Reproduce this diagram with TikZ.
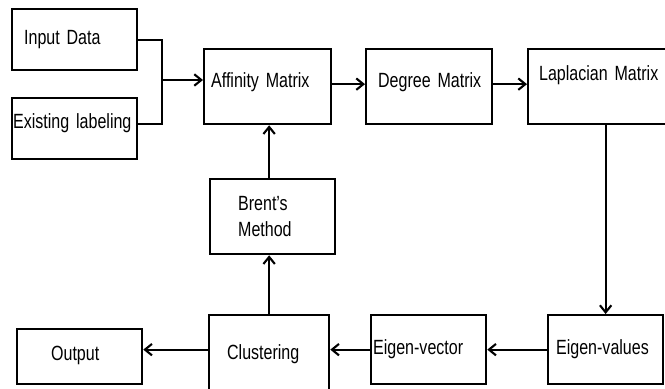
\documentclass[tikz,border=0pt]{standalone}
\usepackage{fontspec}
\setmainfont{Liberation Sans}[FakeStretch=0.78]
\usetikzlibrary{arrows.meta}

\tikzset{
  block/.style={draw,line width=1.3pt,anchor=north west,align=left,inner ysep=0pt},
  lift/.style={text height=0.31cm,text depth=#1},
  lift/.default=0.1cm,
  link/.style={line width=1.2pt}
}

\begin{document}
\begin{tikzpicture}[>={Straight Barb[length=4pt,width=6.5pt]},
    font=\fontsize{11.7pt}{14.7pt}\selectfont]
  \useasboundingbox (0,0) rectangle (13.3,7.76);
  \clip (0,0) rectangle (13.3,7.76);
  % inputs
  \node[block,lift,minimum width=2.5cm,minimum height=1.22cm,
    text width=2.02cm,inner xsep=0.24cm] (input) at (0.22,7.60) {Input Data};
  \node[block,lift=0.32cm,minimum width=2.5cm,minimum height=1.22cm,
    text width=2.46cm,inner xsep=0.02cm] (labeling) at (0.22,5.82) {Existing labeling};
  % matrices
  \node[block,lift=0.26cm,minimum width=2.54cm,minimum height=1.5cm,
    text width=2.26cm,inner xsep=0.14cm] (affinity) at (4.06,6.80) {Affinity Matrix};
  \node[block,lift=0.28cm,minimum width=2.52cm,minimum height=1.5cm,
    text width=2.16cm,inner xsep=0.18cm] (degree) at (7.30,6.80) {\hspace{0.06cm}Degree Matrix};
  \node[block,lift=0.54cm,minimum width=3.0cm,minimum height=1.5cm,
    text width=2.56cm,inner xsep=0.22cm] (laplacian) at (10.54,6.80) {Laplacian Matrix};
  % feedback loop
  \node[block,minimum width=2.5cm,minimum height=1.5cm,
    text width=1.38cm,inner xsep=0.56cm] (brent) at (4.18,4.20) {Brent’s\\Method};
  % bottom row
  \node[block,lift=0.14cm,minimum width=2.5cm,minimum height=1.1cm,
    text width=1.14cm,inner xsep=0.68cm] (output) at (0.32,1.20) {Output};
  \node[block,lift=0.14cm,minimum width=2.4cm,minimum height=1.62cm,
    text width=1.68cm,inner xsep=0.36cm] (clustering) at (4.16,1.48) {Clustering};
  \node[block,lift,minimum width=2.3cm,minimum height=1.38cm,
    text width=2.22cm,inner xsep=0.04cm] (eigvec) at (7.40,1.48) {Eigen-vector};
  \node[block,lift,minimum width=2.3cm,minimum height=1.38cm,
    text width=1.98cm,inner xsep=0.16cm] (eigval) at (10.94,1.48) {Eigen-values};

  \coordinate (join) at (3.24,6.16);
  \draw[link] (input.east) -| (join);
  \draw[link] ([yshift=0.09cm]labeling.east) -| (join);
  \draw[link,->] (join) -- (join -| affinity.west);
  \draw[link,->] ([yshift=0.05cm]affinity.east) -- ([yshift=0.05cm]degree.west);
  \draw[link,->] ([yshift=0.05cm]degree.east) -- ([yshift=0.05cm]laplacian.west);
  \draw[link,->] (eigval.north |- laplacian.south) -- (eigval.north);
  \draw[link,->] (eigval.west) -- (eigvec.east);
  \draw[link,->] (eigvec.west) -- (eigvec.west -| clustering.east);
  \draw[link,->] (clustering.west |- eigvec.west) -- (output.east |- eigvec.west);
  \draw[link,->] (clustering.north) -- (clustering.north |- brent.south);
  \draw[link,->] (clustering.north |- brent.north) -- (clustering.north |- affinity.south);
\end{tikzpicture}
\end{document}
